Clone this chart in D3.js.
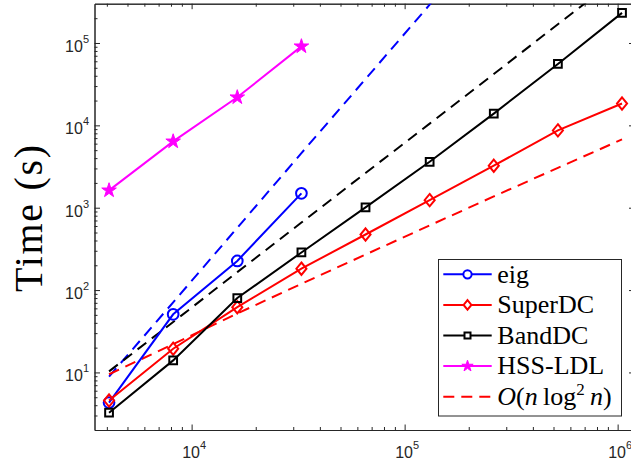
<!DOCTYPE html>
<html>
<head>
<meta charset="utf-8">
<script src="https://cdn.jsdelivr.net/npm/d3@7"></script>
<style>
  html, body { margin: 0; padding: 0; background: #fff; }
  svg { display: block; }
  .tick-label { font-family: "Liberation Sans", Arial, Helvetica, sans-serif; fill: #262626; }
  .serif { font-family: "Liberation Serif", "Times New Roman", serif; fill: #000; }
</style>
</head>
<body>
<svg id="chart" width="631" height="465"></svg>
<script>
// Matrix sizes n and measured run times (seconds)
const sizes = [4096, 8192, 16384, 32768, 65536, 131072, 262144, 524288, 1048576];
const eigTime = [4.3, 50.8, 226, 1494];
const superdcTime = [4.56, 19.4, 62, 182, 473, 1236, 3237, 8690, 18400];
const banddcTime = [3.24, 14, 80, 286, 1009, 3610, 13900, 55600, 232000];
const hssTime = [1623, 6380, 21900, 91000];

// Reference growth curves (dashed)
const cubicRef = [8.9, 71, 570, 4600, 36500, 292000, 2300000];
const quadRef = [10.3, 41, 165, 660, 2640, 10500, 42000, 169000, 675000];
const nlog2nRef = [9.5, 22, 52, 119, 270, 610, 1370, 3050, 6750];

const xMajorTicks = [1e4, 1e5, 1e6];
const yMajorTicks = [1e1, 1e2, 1e3, 1e4, 1e5];

const plot = { left: 94.5, right: 634.5, top: 3.7, bottom: 430 };

const svg = d3.select('#chart');

const x = d3.scaleLog().domain([3500, 1.2e6]).range([plot.left, plot.right]);
const y = d3.scaleLog().domain([2, 3e5]).range([plot.bottom, plot.top]);

// minor ticks 2..9 x 10^k inside each domain
function minorTicks(scale) {
  const [a, b] = scale.domain();
  const out = [];
  for (let e = Math.floor(Math.log10(a)); e <= Math.ceil(Math.log10(b)); e++) {
    for (let k = 2; k <= 9; k++) {
      const v = k * Math.pow(10, e);
      if (v > a && v < b) out.push(v);
    }
  }
  return out;
}

svg.append('defs').append('clipPath').attr('id', 'plot-clip')
  .append('rect')
  .attr('x', plot.left).attr('y', plot.top)
  .attr('width', plot.right - plot.left).attr('height', plot.bottom - plot.top);

const axisColor = '#262626';

function styleAxis(g) {
  g.selectAll('path.domain').attr('stroke', axisColor).attr('stroke-width', 1);
  g.selectAll('.tick line').attr('stroke', axisColor).attr('stroke-width', 1);
}

// minor ticks (all four sides, inward)
svg.append('g').attr('transform', `translate(0,${plot.bottom})`)
  .call(d3.axisBottom(x).tickValues(minorTicks(x)).tickSize(-3).tickSizeOuter(0).tickFormat(''))
  .call(styleAxis);
svg.append('g').attr('transform', `translate(0,${plot.top})`)
  .call(d3.axisTop(x).tickValues(minorTicks(x)).tickSize(-3).tickSizeOuter(0).tickFormat(''))
  .call(styleAxis);
svg.append('g').attr('transform', `translate(${plot.left},0)`)
  .call(d3.axisLeft(y).tickValues(minorTicks(y)).tickSize(-3).tickSizeOuter(0).tickFormat(''))
  .call(styleAxis);
svg.append('g').attr('transform', `translate(${plot.right},0)`)
  .call(d3.axisRight(y).tickValues(minorTicks(y)).tickSize(-3).tickSizeOuter(0).tickFormat(''))
  .call(styleAxis);

// power-of-ten label: "10" with raised exponent
function powerLabel(textSel) {
  textSel.each(function (d) {
    const t = d3.select(this).text(null).attr('class', 'tick-label').attr('fill', axisColor);
    t.append('tspan').attr('font-size', 16).text('10');
    t.append('tspan').attr('font-size', 11).attr('dy', -9).text(Math.round(Math.log10(d)));
  });
}

const xAxisG = svg.append('g').attr('transform', `translate(0,${plot.bottom})`)
  .call(d3.axisBottom(x).tickValues(xMajorTicks).tickSize(-5.5).tickSizeOuter(0).tickPadding(0))
  .call(styleAxis);
xAxisG.selectAll('.tick text')
  .attr('y', 28).attr('dy', null).attr('dx', 2).attr('text-anchor', 'middle')
  .call(powerLabel);

svg.append('g').attr('transform', `translate(0,${plot.top})`)
  .call(d3.axisTop(x).tickValues(xMajorTicks).tickSize(-5.5).tickSizeOuter(0).tickFormat(''))
  .call(styleAxis);

const yAxisG = svg.append('g').attr('transform', `translate(${plot.left},0)`)
  .call(d3.axisLeft(y).tickValues(yMajorTicks).tickSize(-5.5).tickSizeOuter(0).tickPadding(0))
  .call(styleAxis);
yAxisG.selectAll('.tick text')
  .attr('x', -5.5).attr('dy', null).attr('y', 8.4).attr('text-anchor', 'end')
  .call(powerLabel);

svg.append('g').attr('transform', `translate(${plot.right},0)`)
  .call(d3.axisRight(y).tickValues(yMajorTicks).tickSize(-5.5).tickSizeOuter(0).tickFormat(''))
  .call(styleAxis);

// y axis title
svg.append('text')
  .attr('class', 'serif')
  .attr('transform', 'translate(42,218.5) rotate(-90)')
  .attr('text-anchor', 'middle')
  .attr('font-size', 40)
  .attr('textLength', 147)
  .attr('lengthAdjust', 'spacing')
  .text('Time (s)');

// marker shapes
const diamondShape = {
  draw(ctx, size) {
    const h = Math.sqrt(size) * 0.6;
    const w = h * 0.82;
    ctx.moveTo(0, -h); ctx.lineTo(w, 0); ctx.lineTo(0, h); ctx.lineTo(-w, 0); ctx.closePath();
  },
};

const series = [
  { name: 'eig', values: eigTime, color: '#0000ff', shape: d3.symbolCircle, size: 90, fill: 'none' },
  { name: 'SuperDC', values: superdcTime, color: '#ff0000', shape: diamondShape, size: 105, fill: 'none' },
  { name: 'BandDC', values: banddcTime, color: '#000000', shape: d3.symbolSquare, size: 60, fill: 'none' },
  { name: 'HSS-LDL', values: hssTime, color: '#ff00ff', shape: d3.symbolStar, size: 66, fill: '#ff00ff' },
];

const refs = [
  { values: cubicRef, color: '#0000ff' },
  { values: quadRef, color: '#000000' },
  { values: nlog2nRef, color: '#ff0000' },
];

const line = d3.line().x((d) => x(d[0])).y((d) => y(d[1]));
const pairs = (values) => values.map((v, i) => [sizes[i], v]);

const lineLayer = svg.append('g').attr('clip-path', 'url(#plot-clip)');

refs.forEach((r) => {
  lineLayer.append('path')
    .attr('d', line(pairs(r.values)))
    .attr('fill', 'none')
    .attr('stroke', r.color)
    .attr('stroke-width', 2)
    .attr('stroke-dasharray', '11,7');
});

series.forEach((s) => {
  lineLayer.append('path')
    .attr('d', line(pairs(s.values)))
    .attr('fill', 'none')
    .attr('stroke', s.color)
    .attr('stroke-width', 2);
});

series.forEach((s) => {
  svg.append('g').selectAll('path')
    .data(pairs(s.values))
    .join('path')
    .attr('transform', (d) => `translate(${x(d[0])},${y(d[1])})`)
    .attr('d', d3.symbol(s.shape, s.size))
    .attr('fill', s.fill)
    .attr('stroke', s.color)
    .attr('stroke-width', s.shape === d3.symbolStar ? 1 : 2);
});

// legend
const legend = svg.append('g');
legend.append('rect')
  .attr('x', 438.5).attr('y', 259.5).attr('width', 183).attr('height', 156.5)
  .attr('fill', '#fff').attr('stroke', axisColor).attr('stroke-width', 1);

const rowY = (i) => 274.3 + i * 30.6;
const sampleX0 = 443.3, sampleX1 = 491.7, textX = 497.3;

series.forEach((s, i) => {
  const g = legend.append('g').attr('transform', `translate(0,${rowY(i)})`);
  g.append('line').attr('x1', sampleX0).attr('x2', sampleX1)
    .attr('stroke', s.color).attr('stroke-width', 2);
  g.append('path')
    .attr('transform', `translate(${(sampleX0 + sampleX1) / 2},0)`)
    .attr('d', d3.symbol(s.shape, s.size * 0.6))
    .attr('fill', s.fill === 'none' ? '#fff' : s.fill)
    .attr('stroke', s.color)
    .attr('stroke-width', s.shape === d3.symbolStar ? 1 : 2);
  g.append('text').attr('class', 'serif')
    .attr('x', textX).attr('y', 8.3).attr('font-size', 26)
    .text(s.name);
});

const refRow = legend.append('g').attr('transform', `translate(0,${rowY(4)})`);
refRow.append('line').attr('x1', sampleX0).attr('x2', sampleX1)
  .attr('stroke', '#ff0000').attr('stroke-width', 2).attr('stroke-dasharray', '11,7');
const refText = refRow.append('text').attr('class', 'serif')
  .attr('x', textX).attr('y', 8.3).attr('font-size', 26);
refText.append('tspan').attr('font-style', 'italic').text('O');
refText.append('tspan').text('(');
refText.append('tspan').attr('font-style', 'italic').text('n');
refText.append('tspan').text('\u2009log');
refText.append('tspan').attr('font-size', 17).attr('dy', -10).text('2');
refText.append('tspan').attr('dy', 10).text('\u2009');
refText.append('tspan').attr('font-style', 'italic').text('n');
refText.append('tspan').text(')');
</script>
</body>
</html>
